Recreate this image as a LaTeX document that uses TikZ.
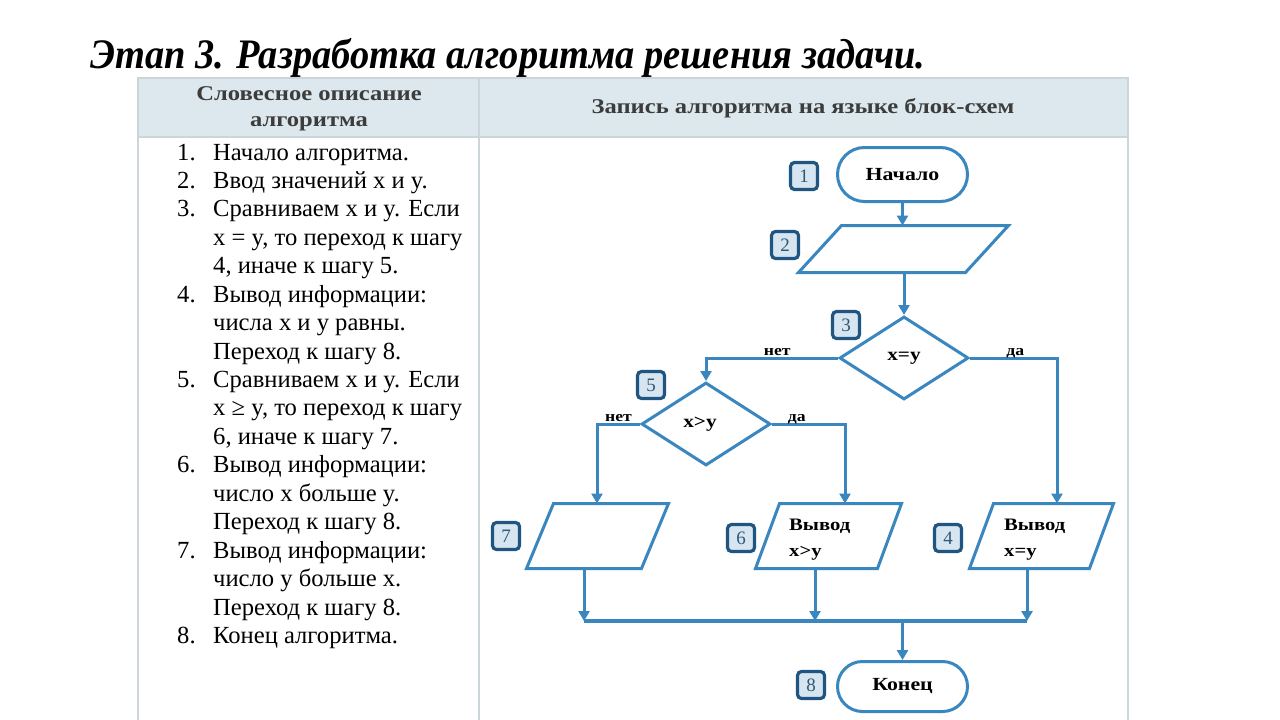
\documentclass[tikz,border=0pt]{standalone}
\usepackage{fontspec}
\usepackage{graphicx}
\setmainfont{Liberation Serif}
\usetikzlibrary{shapes.geometric,shapes.misc,arrows.meta}
\definecolor{fl}{HTML}{3A86BF}
\definecolor{nbdark}{HTML}{1F5580}
\definecolor{nbfill}{HTML}{D7E5F1}
\definecolor{nbtext}{HTML}{2F5875}
\definecolor{hdr}{HTML}{DCE8ED}
\definecolor{gridc}{HTML}{CBD5DA}
\definecolor{hdrtext}{HTML}{3C3C3C}
\newcommand\fcw[1]{\scalebox{1.18}[1]{#1}}
\newcommand\drawpar[2]{\draw[fl, line width=3pt, line join=miter]
  ([xshift=#2pt]#1.north west) -- (#1.north east) -- ([xshift=-#2pt]#1.south east) -- (#1.south west) -- cycle;}
\begin{document}
\begin{tikzpicture}[x=1pt,y=-1pt,
  numbox/.style={draw=nbdark, line width=3.2pt, fill=nbfill, rounded corners=4pt,
    minimum width=27pt, minimum height=27pt, inner sep=0pt,
    font=\fontsize{19}{19}\selectfont, text=nbtext},
  term/.style={rounded rectangle, draw=fl, line width=3pt, minimum width=130pt,
    minimum height=54pt, inner sep=0pt, font=\bfseries\fontsize{18.5}{18.5}\selectfont},
  dec/.style={diamond, draw=fl, line width=3pt, minimum width=129pt, minimum height=83pt,
    inner sep=0pt, font=\bfseries\fontsize{18}{18}\selectfont},
  iobox/.style={rectangle, inner sep=0pt, outer sep=0pt},
  iotext/.style={font=\bfseries\fontsize{17.5}{26}\selectfont, align=left, inner sep=0pt},
  arr/.style={draw=fl, line width=3pt, -{Triangle[length=10pt,width=11pt]}},
  lbl/.style={font=\bfseries\fontsize{15}{15}\selectfont, anchor=base, yshift=3pt, inner sep=0pt},
  lst/.style={font=\fontsize{24.6}{28}\selectfont, anchor=base west, inner sep=0pt},
  hdrt/.style={font=\bfseries\fontsize{21}{26}\selectfont, text=hdrtext, align=center, inner sep=0pt, xscale=1.17}
]
\useasboundingbox (0,0) rectangle (1280,720);
\fill[white] (0,0) rectangle (1280,720);

% table
\fill[hdr] (138,78) rectangle (1128,137);
\draw[gridc, line width=1.5pt] (138,720) -- (138,78) -- (1128,78) -- (1128,720);
\draw[gridc, line width=1.5pt] (138,137) -- (1128,137);
\draw[gridc, line width=1.5pt] (479,78) -- (479,720);

% title
\node[anchor=base west, inner sep=0pt, xscale=0.915, font=\bfseries\itshape\fontsize{42}{42}\selectfont] (title) at (90,68)
  {Этап 3. Разработка алгоритма решения задачи.};

% headers
\node[hdrt] (h1) at (309,109) {Словесное описание\\алгоритма};
\node[hdrt] (h2) at (803,108) {Запись алгоритма на языке блок-схем};

% list
\foreach \n/\k in {1/1,2/2,3/3,4/6,5/9,6/12,7/15,8/18}
  \node[lst] (num\n) at (177,{160+(\k-1)*28.44}) {\n.};
\node[lst] (l1) at (213,160.00) {Начало алгоритма.};
\node[lst] (l2) at (213,188.44) {Ввод значений x и y.};
\node[lst] (l3) at (213,216.88) {Сравниваем x и y. Если};
\node[lst] (l4) at (213,245.32) {x = y, то переход к шагу};
\node[lst] (l5) at (213,273.76) {4, иначе к шагу 5.};
\node[lst] (l6) at (213,302.20) {Вывод информации:};
\node[lst] (l7) at (213,330.64) {числа x и y равны.};
\node[lst] (l8) at (213,359.08) {Переход к шагу 8.};
\node[lst] (l9) at (213,387.52) {Сравниваем x и y. Если};
\node[lst] (l10) at (213,415.96) {x ≥ y, то переход к шагу};
\node[lst] (l11) at (213,444.40) {6, иначе к шагу 7.};
\node[lst] (l12) at (213,472.84) {Вывод информации:};
\node[lst] (l13) at (213,501.28) {число x больше y.};
\node[lst] (l14) at (213,529.72) {Переход к шагу 8.};
\node[lst] (l15) at (213,558.16) {Вывод информации:};
\node[lst] (l16) at (213,586.60) {число y больше x.};
\node[lst] (l17) at (213,615.04) {Переход к шагу 8.};
\node[lst] (l18) at (213,643.48) {Конец алгоритма.};

% flowchart blocks
\node[term] (start) at (902.5,174.5) {\fcw{Начало}};
\node[iobox, minimum width=210pt, minimum height=47pt] (in2) at (903.5,249) {};
\drawpar{in2}{43}
\node[dec] (d3) at (904,358) {\fcw{x=y}};
\node[dec] (d5) at (706,424) {\hspace*{-12pt}\fcw{x>y}};
\node[iobox, minimum width=142pt, minimum height=65pt] (o7) at (597.5,536) {};
\node[iobox, minimum width=146pt, minimum height=65pt] (o6) at (828.5,536) {};
\node[iobox, minimum width=144pt, minimum height=65pt] (o4) at (1041.5,536) {};
\drawpar{o7}{27}
\drawpar{o6}{24}
\drawpar{o4}{24}
\node[iotext, anchor=west] (t6) at (789,540) {\fcw{Вывод}\\\fcw{x>y}};
\node[iotext, anchor=west] (t4) at (1004,540) {\fcw{Вывод}\\\fcw{x=y}};
\node[term, minimum height=50pt] (end) at (902.5,686.5) {\fcw{Конец}};

% numbers
\node[numbox] (n1) at (804,176) {1};
\node[numbox] (n2) at (785,245) {2};
\node[numbox] (n3) at (846,325) {3};
\node[numbox] (n5) at (651,385) {5};
\node[numbox] (n7) at (506,536) {7};
\node[numbox] (n6) at (741,538) {6};
\node[numbox] (n4) at (948,538) {4};
\node[numbox] (n8) at (811,685) {8};

% arrival and exit points on the output blocks
\coordinate (a7) at (597,536);
\coordinate (a6) at (845,536);
\coordinate (a4) at (1057,536);
\coordinate (b7) at (584,536);
\coordinate (b6) at (815,536);
\coordinate (b4) at (1027,536);
\coordinate (mrg) at (904,621);

% connectors
\draw[arr] (start.south) -- (start.south |- in2.north);
\draw[arr] (in2.south -| d3.north) -- (d3.north);
\draw[arr] (d3.west) -| node[lbl,pos=0.23]{\fcw{нет}} (d5.north);
\draw[arr] (d3.east) -| node[lbl,pos=0.26]{\fcw{да}} (a4 |- o4.north);
\draw[arr] (d5.west) -| node[lbl,pos=0.25]{\fcw{нет}} (a7 |- o7.north);
\draw[arr] (d5.east) -| node[lbl,pos=0.17]{\fcw{да}} (a6 |- o6.north);
\draw[arr] (b7 |- o7.south) -- (b7 |- mrg);
\draw[arr] (b6 |- o6.south) -- (b6 |- mrg);
\draw[arr] (b4 |- o4.south) -- (b4 |- mrg);
\draw[fl, line width=4pt] (b7 |- mrg) -- (b4 |- mrg);
\draw[arr] (end.north |- mrg) -- (end.north);
\end{tikzpicture}
\end{document}
